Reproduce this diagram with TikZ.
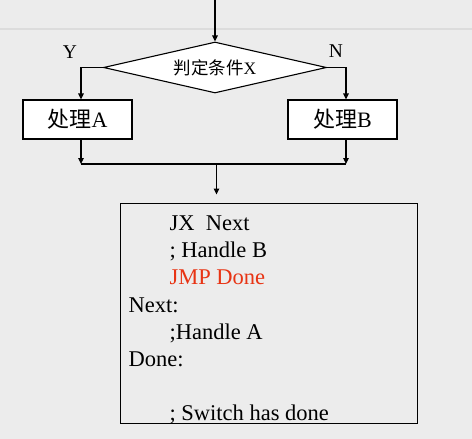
\documentclass[tikz,border=0pt]{standalone}
\usepackage{fontspec}
\setmainfont{Liberation Serif}
\newfontfamily\cjk{Noto Sans CJK SC}
\usetikzlibrary{shapes.geometric,arrows.meta,calc}
\definecolor{bgc}{RGB}{236,236,236}
\definecolor{rulec}{RGB}{220,220,220}
\definecolor{jmpred}{RGB}{232,52,20}
\begin{document}
\begin{tikzpicture}[x=1pt,y=-1pt,line width=1.1pt,
  arr/.style={-{Triangle[length=6pt,width=5.5pt]}},
  decision/.style={diamond,draw,fill=white,inner sep=0pt,aspect=4.4,
    minimum width=223pt,minimum height=51pt,font=\fontsize{17.5}{20}\selectfont},
  procbox/.style={rectangle,draw,fill=white,inner sep=0pt,
    minimum width=109pt,minimum height=39pt,font=\fontsize{22}{24}\selectfont},
  codebox/.style={rectangle,draw,line width=0.9pt,inner sep=0pt,
    minimum width=297pt,minimum height=220pt},
  codetext/.style={inner sep=0pt,align=left,font=\fontsize{22.5}{27.2}\selectfont},
  lab/.style={inner sep=0pt,font=\fontsize{19.5}{20}\selectfont}]
\path[use as bounding box,fill=bgc] (0,0) rectangle (472,439);
\draw[rulec,line width=1.6pt] (0,29) -- (472,29);
% decision
\node[decision] (dec) at (215,67.5) {\raisebox{-2.5pt}{{\cjk 判定条件}X}};
\coordinate (start) at (215,0);
\draw[arr] (start) -- (dec.north);
\node[lab] (ly) at (70,52.5) {Y};
\node[lab] (ln) at (336,51.5) {N};
% process boxes
\node[procbox] (pa) at (77.5,119.5) {{\cjk 处理}A};
\node[procbox] (pb) at (342.5,119.5) {{\cjk 处理}B};
\coordinate (la) at (81,0);
\coordinate (lb) at (346,0);
\draw[arr] (dec.west) -| (pa.north -| la);
\draw[arr] (dec.east) -| (pb.north -| lb);
% merge
\coordinate (ma) at (81,164);
\coordinate (mb) at (346,164);
\coordinate (mc) at (216.5,164);
\draw[arr] (pa.south -| la) -- (ma);
\draw[arr] (pb.south -| lb) -- (mb);
\draw (ma) -- (mb);
% code box
\node[codebox] (code) at (268.5,313) {};
\draw[arr,shorten >=8pt] (mc) -- (code.north -| mc);
\node[codetext,anchor=north west] (txt) at (128,215.3) {%
\hspace*{41pt}JX\ \ Next\\
\hspace*{41pt}; Handle B\\
\hspace*{41pt}\textcolor{jmpred}{JMP Done}\\
Next:\\
\hspace*{41pt};Handle A\\
Done:\\
\mbox{}\\
\hspace*{41pt}; Switch has done};
\end{tikzpicture}
\end{document}
